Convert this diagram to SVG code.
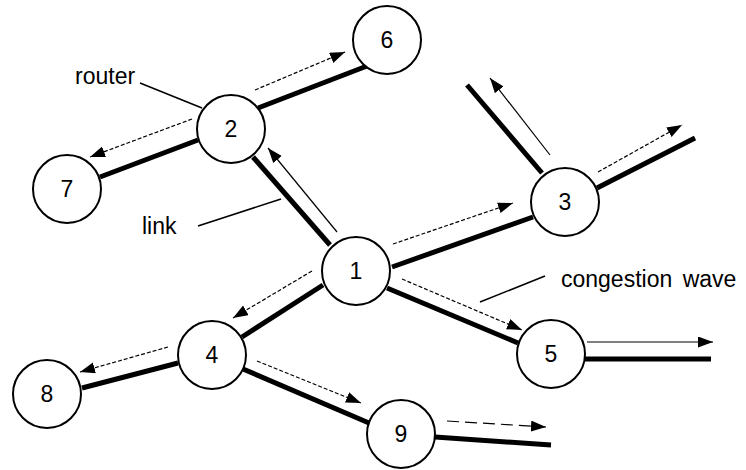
<svg xmlns="http://www.w3.org/2000/svg" width="746" height="470" viewBox="0 0 746 470">
<style>
.node circle{fill:#fff;stroke:#000;stroke-width:2}
.node text{font-family:"Liberation Sans",Arial,sans-serif;font-size:23px;text-anchor:middle;fill:#000}
.link{stroke:#000;stroke-width:5;fill:none}
.arr{stroke:#000;stroke-width:1.2;fill:none;marker-end:url(#ah)}
.dash{stroke-dasharray:4 2}
.ldash{stroke-dasharray:12 6}
.lbl{font-family:"Liberation Sans",Arial,sans-serif;font-size:23px;fill:#000}
.pt{stroke:#000;stroke-width:1.6;fill:none}
</style>
<defs>
<marker id="ah" markerUnits="userSpaceOnUse" markerWidth="16" markerHeight="12" refX="15" refY="5.5" orient="auto">
<path d="M0,0 L15,5.5 L0,11 z" fill="#000"/>
</marker>
</defs>
<g id="connectors">
<line class="link" x1="258" y1="108" x2="367" y2="66"/>
<line class="link" x1="198" y1="140" x2="100" y2="177"/>
<line class="link" x1="253" y1="157" x2="330" y2="245"/>
<line class="link" x1="392" y1="267" x2="533" y2="217"/>
<line class="link" x1="387" y1="288" x2="518" y2="343"/>
<line class="link" x1="323" y1="285" x2="242" y2="337"/>
<line class="link" x1="178" y1="363" x2="82" y2="388"/>
<line class="link" x1="243" y1="369" x2="369" y2="423"/>
<line class="link" x1="435" y1="437" x2="551" y2="445"/>
<line class="link" x1="585" y1="359" x2="711" y2="359"/>
<line class="link" x1="467" y1="85" x2="542" y2="173"/>
<line class="link" x1="597" y1="188" x2="695" y2="138"/>
<line class="arr dash" x1="255" y1="90" x2="345" y2="52"/>
<line class="arr dash" x1="192" y1="119" x2="90" y2="157"/>
<line class="arr" x1="337" y1="232" x2="268" y2="148"/>
<line class="arr dash" x1="393" y1="244" x2="513" y2="203"/>
<line class="arr dash" x1="402" y1="279" x2="522" y2="330"/>
<line class="arr dash" x1="312" y1="271" x2="233" y2="318"/>
<line class="arr dash" x1="168" y1="347" x2="80" y2="372"/>
<line class="arr dash" x1="257" y1="361" x2="361" y2="403"/>
<line class="arr ldash" x1="447" y1="421" x2="546" y2="427"/>
<line class="arr" x1="587" y1="342" x2="713" y2="342"/>
<line class="arr" x1="550" y1="155" x2="490" y2="78"/>
<line class="arr dash" x1="598" y1="172" x2="682" y2="125"/>
</g>
<g id="labels">
<line class="pt" x1="140" y1="83" x2="202" y2="108"/>
<line class="pt" x1="198" y1="226" x2="281" y2="199"/>
<line class="pt" x1="545" y1="276" x2="480" y2="302"/>
<text class="lbl" x="75" y="84">router</text>
<text class="lbl" x="142" y="234">link</text>
<text class="lbl" x="561" y="287" word-spacing="4">congestion wave</text>
</g>
<g id="n1" class="node"><circle cx="356" cy="271" r="34"/><text x="356" y="279">1</text></g>
<g id="n2" class="node"><circle cx="231" cy="129" r="34"/><text x="231" y="137">2</text></g>
<g id="n3" class="node"><circle cx="565" cy="202" r="34"/><text x="565" y="210">3</text></g>
<g id="n4" class="node"><circle cx="212" cy="355" r="34"/><text x="212" y="363">4</text></g>
<g id="n5" class="node"><circle cx="551" cy="354" r="34"/><text x="551" y="362">5</text></g>
<g id="n6" class="node"><circle cx="387" cy="40" r="34"/><text x="387" y="48">6</text></g>
<g id="n7" class="node"><circle cx="67" cy="189" r="34"/><text x="67" y="197">7</text></g>
<g id="n8" class="node"><circle cx="47" cy="394" r="34"/><text x="47" y="402">8</text></g>
<g id="n9" class="node"><circle cx="401" cy="434" r="34"/><text x="401" y="442">9</text></g>
</svg>
